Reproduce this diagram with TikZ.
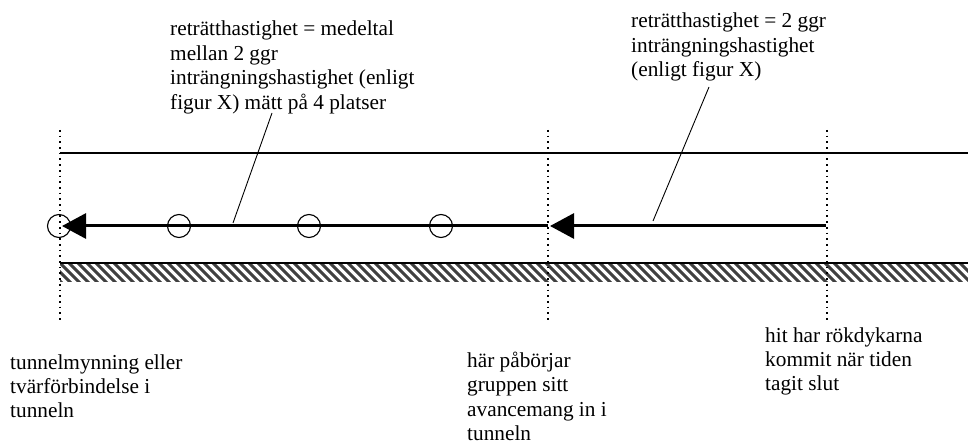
\documentclass[tikz,border=0pt]{standalone}
\usepackage{fontspec}
\setmainfont{Liberation Serif}
\usetikzlibrary{arrows.meta}
\begin{document}
\begin{tikzpicture}[x=1pt,y=-1pt,
  lbl/.style={anchor=base west,inner sep=0pt,align=left,font=\fontsize{21.3}{24.4}\selectfont},
  dotline/.style={line width=2pt,dash pattern=on 1.7pt off 4pt},
  wall/.style={line width=1.4pt},
  hatch/.style={line width=3pt,black!75},
  thickarrow/.style={line width=3pt,-{Triangle[length=24pt,width=25pt]}},
  ring/.style={circle,draw,line width=1.1pt,minimum size=23pt,inner sep=0pt},
  leader/.style={line width=0.9pt}]
\useasboundingbox (0,0) rectangle (968,443);
% hatched floor
\begin{scope}
\clip (60,263) rectangle (968,282);
\foreach \hx in {30,39,...,980} {\draw[hatch] (\hx,260) -- ({\hx+25},285);}
\end{scope}
\draw[wall] (60,263) -- (968,263);
% top wall
\draw[wall] (60,153) -- (968,153);
% dotted verticals
\coordinate (d1t) at (60,130); \coordinate (d1b) at (60,320);
\coordinate (d2t) at (548,130); \coordinate (d2b) at (548,320);
\coordinate (d3t) at (827,130); \coordinate (d3b) at (827,320);
\draw[dotline] (d1t) -- (d1b);
\draw[dotline] (d2t) -- (d2b);
\draw[dotline] (d3t) -- (d3b);
% circles
\node[ring] (c0) at (59,226) {};
\node[ring] (c1) at (179,226) {};
\node[ring] (c2) at (309,226) {};
\node[ring] (c3) at (441,226) {};
% arrows
\coordinate (a1s) at (548,226); \coordinate (a1e) at (62,226);
\coordinate (a2s) at (826,226); \coordinate (a2e) at (550,226);
\draw[thickarrow] (a1s) -- (a1e);
\draw[thickarrow] (a2s) -- (a2e);
% labels (base anchor = baseline of the last line)
\node[lbl] (t1) at (170,109.2) {reträtthastighet = medeltal\\mellan 2 ggr\\inträngningshastighet (enligt\\figur X) mätt på 4 platser};
\node[lbl] (t2) at (631,76.8) {reträtthastighet = 2 ggr\\inträngningshastighet\\(enligt figur X)};
\node[lbl] (b1) at (10,417.8) {tunnelmynning eller\\tvärförbindelse i\\tunneln};
\node[lbl] (b2) at (467,440.5) {här påbörjar\\gruppen sitt\\avancemang in i\\tunneln};
\node[lbl] (b3) at (765,390.8) {hit har rökdykarna\\kommit när tiden\\tagit slut};
% leaders
\coordinate (l1a) at (272,113); \coordinate (l1b) at (233,223);
\coordinate (l2a) at (709,87); \coordinate (l2b) at (653,221);
\draw[leader] (l1a) -- (l1b);
\draw[leader] (l2a) -- (l2b);
\end{tikzpicture}
\end{document}
